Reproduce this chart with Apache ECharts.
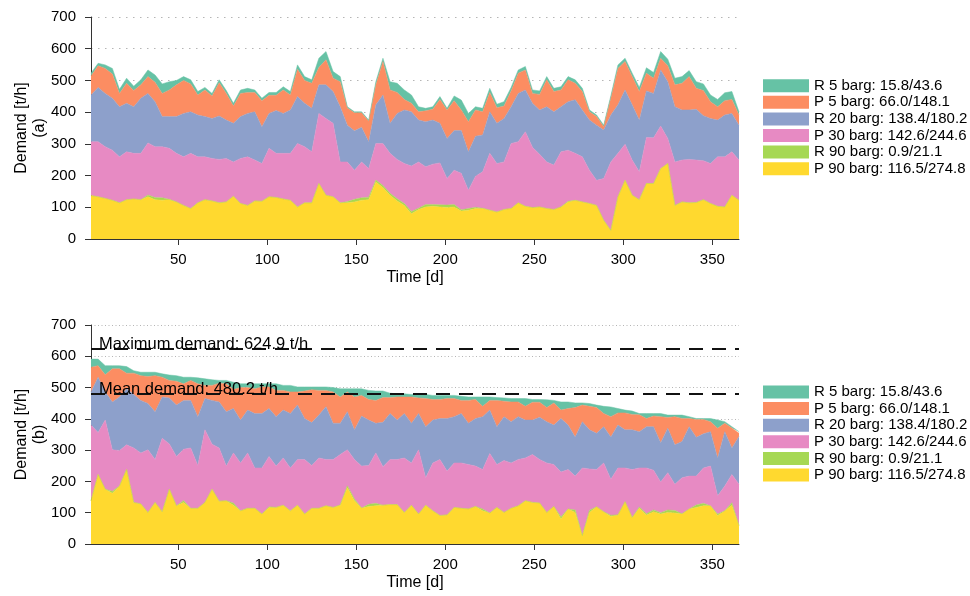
<!DOCTYPE html>
<html><head><meta charset="utf-8">
<script src="https://cdn.jsdelivr.net/npm/echarts@6/dist/echarts.min.js"></script>
<style>html,body{margin:0;padding:0;background:#fff}#c{width:970px;height:596px}</style>
</head><body><div id="c"></div>
<script>
// Sample days (every 4th day of the year)
const days = [1,5,9,13,17,21,25,29,33,37,41,45,49,53,57,61,65,69,73,77,81,85,89,93,97,101,105,109,113,117,121,125,129,133,137,141,145,149,153,157,161,165,169,173,177,181,185,189,193,197,201,205,209,213,217,221,225,229,233,237,241,245,249,253,257,261,265,269,273,277,281,285,289,293,297,301,305,309,313,317,321,325,329,333,337,341,345,349,353,357,361,365];

// Demand per pressure level [t/h]
const p90 = [137,133,128,122,114,124,126,124,133,124,122,124,117,106,96,114,124,120,114,117,135,112,106,120,119,133,131,126,122,101,114,114,175,138,133,114,114,117,122,124,180,162,138,120,106,80,93,101,103,101,99,101,88,91,96,96,91,85,93,96,114,103,99,101,96,93,101,117,122,117,112,106,59,27,133,185,138,124,175,175,222,238,106,117,114,115,124,112,103,101,138,122];
const r90 = [0,0,0,0,0,0,0,0,6,7,8,1,0,0,0,0,0,0,0,0,0,0,0,0,0,0,0,0,0,0,0,0,0,0,0,0,4,8,8,8,6,7,6,7,6,7,4,8,6,7,8,8,4,5,4,1,0,0,0,0,0,0,0,0,0,0,0,2,0,0,0,0,0,0,0,0,0,0,0,0,0,0,0,0,0,0,0,0,0,0,0,0];
const p30 = [170,174,163,158,145,151,144,146,164,160,161,161,153,153,174,145,135,134,137,137,108,142,153,129,119,153,139,144,148,200,177,161,221,242,232,129,125,92,113,90,115,132,126,124,126,143,146,119,127,132,84,108,115,58,98,115,179,153,150,205,193,235,190,166,147,140,174,161,148,142,105,79,132,216,137,114,111,88,145,144,134,79,137,132,137,134,123,126,156,158,137,127];
const r20 = [147,171,168,164,158,153,147,174,156,142,95,100,116,137,131,132,127,126,137,121,122,132,137,152,116,110,135,126,137,148,137,137,90,106,100,174,116,124,109,85,122,153,95,145,169,171,132,142,139,125,126,125,135,121,126,116,131,127,137,116,152,132,139,140,174,168,142,153,169,148,158,174,153,148,153,171,174,163,147,140,177,179,174,158,156,160,142,142,116,132,121,110];
const p5 = [60,68,79,76,42,63,51,42,53,61,73,84,100,104,88,63,84,71,105,84,54,73,66,61,82,57,48,74,47,86,72,79,55,79,42,79,54,57,46,64,63,106,105,66,33,27,26,34,34,75,90,94,65,95,83,73,61,49,39,50,64,63,31,49,85,64,53,69,52,58,26,27,10,53,115,90,89,90,56,48,37,50,69,84,105,66,79,53,42,45,44,32];
const r5 = [9,8,11,18,13,16,14,16,21,23,30,26,14,12,13,11,8,8,9,9,9,11,13,8,8,9,9,10,11,14,12,11,29,26,21,16,4,3,3,4,10,10,26,29,30,26,16,8,8,9,5,15,31,26,10,11,13,11,14,11,10,11,11,11,10,10,10,10,11,10,6,5,5,7,11,10,11,13,17,18,21,21,21,21,19,21,21,21,23,25,25,10];

const seriesNames = ['P 90 barg: 116.5/274.8','R 90 barg: 0.9/21.1','P 30 barg: 142.6/244.6','R 20 barg: 138.4/180.2','P 5 barg: 66.0/148.1','R 5 barg: 15.8/43.6'];
const colors = ['#ffd92f','#a6d854','#e78ac3','#8da0cb','#fc8d62','#66c2a5'];
const xTicks = [50,100,150,200,250,300,350];
const maxDemand = 624.9;
const meanDemand = 480.2;

const layers = [p90, r90, p30, r20, p5, r5];
// Duration curve: same days ordered by total demand (descending)
const totals = days.map((d, i) => layers.reduce((s, a) => s + a[i], 0));
const order = days.map((d, i) => i).sort((a, b) => totals[b] - totals[a]);

const FONT = 'Liberation Sans, Arial, Helvetica, sans-serif';

function xAxis(gi) {
  return {
    type: 'value', gridIndex: gi, min: 1, max: 365,
    axisLine: {show: true, onZero: false, lineStyle: {color: '#333', width: 1}},
    axisTick: {show: true, length: 6, customValues: xTicks, lineStyle: {color: '#333'}},
    axisLabel: {customValues: xTicks, fontSize: 15, color: '#000', margin: 13},
    splitLine: {show: false},
    name: 'Time [d]', nameLocation: 'middle', nameGap: 31, nameMoveOverlap: false,
    nameTextStyle: {fontSize: 16, color: '#000'}
  };
}
function yAxis(gi, label, dash) {
  return {
    type: 'value', gridIndex: gi, min: 0, max: 700, interval: 100,
    axisLine: {show: true, lineStyle: {color: '#333', width: 1}},
    axisTick: {show: true, length: 6, lineStyle: {color: '#333'}},
    axisLabel: {fontSize: 15, color: '#000', margin: 15},
    splitLine: {show: true, lineStyle: {color: '#b5b5b5', type: dash, width: 1}},
    name: label, nameLocation: 'middle', nameGap: 42, nameMoveOverlap: false,
    nameTextStyle: {fontSize: 16, color: '#000', lineHeight: 18}
  };
}

// data items are [value, day]; encode maps dim 1 -> x, dim 0 -> y so the value dim is stacked
const series = [];
layers.forEach((arr, k) => {
  series.push({
    name: seriesNames[k], type: 'line', xAxisIndex: 0, yAxisIndex: 0, stack: 'a',
    encode: {x: 1, y: 0},
    symbol: 'none', showSymbol: false, smooth: false,
    lineStyle: {width: 0.5, color: colors[k]},
    itemStyle: {color: colors[k]},
    areaStyle: {color: colors[k], opacity: 1},
    data: days.map((d, i) => [arr[i], d])
  });
});
layers.forEach((arr, k) => {
  const s = {
    name: seriesNames[k], type: 'line', xAxisIndex: 1, yAxisIndex: 1, stack: 'b',
    encode: {x: 1, y: 0},
    symbol: 'none', showSymbol: false, smooth: false,
    lineStyle: {width: 0.5, color: colors[k]},
    itemStyle: {color: colors[k]},
    areaStyle: {color: colors[k], opacity: 1},
    data: order.map((idx, r) => [arr[idx], days[r]])
  };
  if (k === layers.length - 1) {
    s.markLine = {
      silent: true, symbol: 'none', animation: false, z: 20,
      lineStyle: {color: '#111', type: [14, 9], width: 1.8},
      label: {show: true, position: 'insideStartTop', formatter: p => p.name,
              color: '#000', fontSize: 16.5, distance: [8, -4]},
      emphasis: {disabled: true},
      data: [
        {yAxis: maxDemand, name: 'Maximum demand: ' + maxDemand.toFixed(1) + ' t/h'},
        {yAxis: meanDemand, name: 'Mean demand: ' + meanDemand.toFixed(1) + ' t/h'}
      ]
    };
  }
  series.push(s);
});

const legendOrder = seriesNames.slice().reverse();
function legend(top) {
  return {
    orient: 'vertical', left: 763, top: top, padding: 0, itemWidth: 46, itemHeight: 13, itemGap: 0,
    icon: 'rect', symbolKeepAspect: false, selectedMode: false,
    data: legendOrder,
    textStyle: {fontSize: 15, color: '#000', lineHeight: 16.6}
  };
}

const chart = echarts.init(document.getElementById('c'), null, {renderer: 'canvas'});
chart.setOption({
  animation: false,
  textStyle: {fontFamily: FONT},
  grid: [
    {left: 91, top: 17, width: 648, height: 222, outerBoundsMode: 'none', containLabel: false},
    {left: 91, top: 325, width: 648, height: 219, outerBoundsMode: 'none', containLabel: false}
  ],
  xAxis: [xAxis(0), xAxis(1)],
  yAxis: [yAxis(0, 'Demand [t/h]\n(a)', [1.5, 5.5]), yAxis(1, 'Demand [t/h]\n(b)', [1, 2.5])],
  legend: [legend(77.4), legend(383.7)],
  series: series
});
</script></body></html>
